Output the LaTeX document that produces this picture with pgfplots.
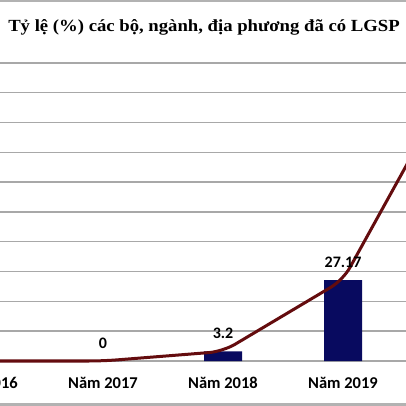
\documentclass[border=0pt]{standalone}
\usepackage{pgfplots}
\pgfplotsset{compat=1.18}
\usepackage{fontspec}
\setmainfont{Liberation Serif}
\newfontfamily\calfont{Carlito}
\definecolor{barblue}{RGB}{8,10,95}
\definecolor{linered}{RGB}{100,12,14}
\definecolor{gridgray}{RGB}{168,168,168}
\begin{document}
\begin{tikzpicture}
\useasboundingbox (0,0) rectangle (406bp,406bp);
\clip (0,0) rectangle (406bp,406bp);
\fill[white] (0,0) rectangle (406bp,406bp);
\begin{axis}[
  at={(-89bp,45bp)}, anchor=south west,
  x=120bp, y=2.98bp,
  xmin=-0.6, xmax=4.6, ymin=0, ymax=120,
  axis line style={draw=none},
  clip=false,
  ytick={0,10,...,100}, yticklabels={},
  ymajorgrids, grid style={gridgray, line width=1.4bp},
  xtick={0,1,2,3,4},
  xticklabels={Năm 2016,Năm 2017,Năm 2018,Năm 2019,Năm 2020},
  major tick length=0pt,
  xticklabel style={font=\calfont\bfseries\fontsize{16.5bp}{18bp}\selectfont, anchor=base, yshift=-27.5bp},
  /pgf/number format/assume math mode=true,
]
\addplot[ybar, bar width=38bp, fill=barblue, draw=none,
  nodes near coords,
  every node near coord/.append style={font=\calfont\bfseries\fontsize{16bp}{18bp}\selectfont, text=black, anchor=base, yshift=13bp}]
  coordinates {(0,0) (1,0) (2,3.2) (3,27.17) (4,100)};
\addplot[linered, line width=3bp, sharp plot, rounded corners=14bp, mark=none]
  coordinates {(0,0) (1,0) (2,3.2) (3,27.17) (4,100)};
\end{axis}
\draw[gray!60, line width=1.5bp] (0,405bp) -- (406bp,405bp);
\draw[gray!60, line width=2.5bp] (0,1.5bp) -- (406bp,1.5bp);
\node[anchor=base, xscale=1.1, font=\bfseries\fontsize{17bp}{20bp}\selectfont] at (204bp,374bp) {Tỷ lệ (\%) các bộ, ngành, địa phương đã có LGSP};
\end{tikzpicture}
\end{document}
